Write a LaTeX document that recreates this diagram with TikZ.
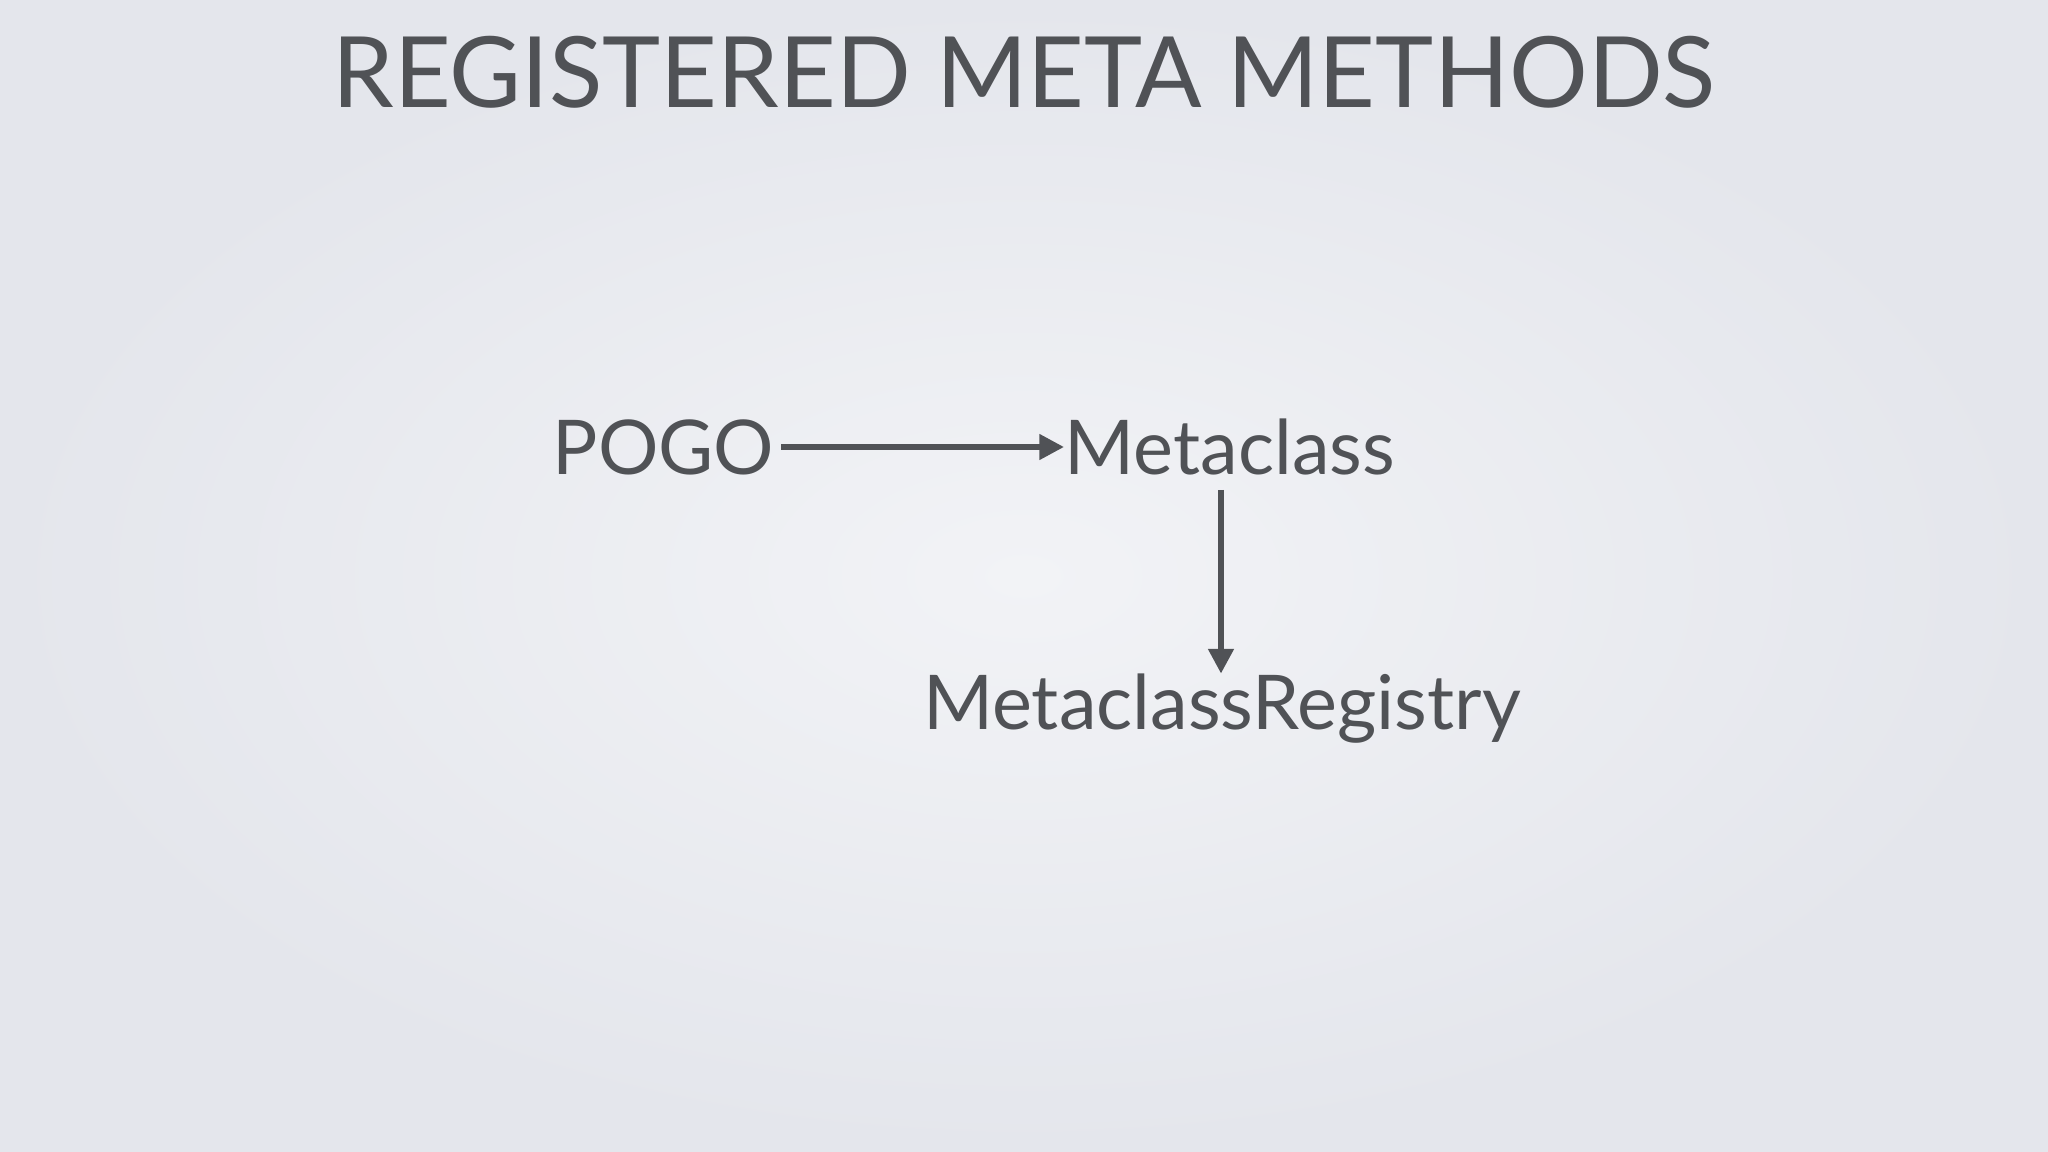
\documentclass[tikz,border=0pt]{standalone}
\usepackage{fontspec}
\setmainfont{Lato}
\usetikzlibrary{arrows.meta}
\definecolor{txt}{HTML}{505256}
\definecolor{bgin}{HTML}{F2F3F6}
\definecolor{bgout}{HTML}{E4E6EC}
\tikzset{lbl/.style={text=txt,font=\fontsize{21.5}{26}\selectfont,inner sep=0pt},
conn/.style={draw=txt,line width=1.6pt,-{Triangle[length=7pt,width=7pt]}}}
\begin{document}
\begin{tikzpicture}
\shade[inner color=bgin,outer color=bgout] (0,0) rectangle (20.48,-11.52);
\useasboundingbox (0,0) rectangle (20.48,-11.52);
\node[text=txt,font=\fontsize{28}{33}\selectfont,inner sep=0pt] (title) at (10.24,-0.72) {REGISTERED META METHODS};
\node[lbl,anchor=east] (pogo) at (7.75,-4.47) {POGO};
\node[lbl,anchor=west] (meta) at (10.64,-4.47) {Metaclass};
\node[lbl] (reg) at (12.22,-7.09) {MetaclassRegistry};
\draw[conn] (pogo.east) ++(0.06,0) coordinate (s1) (s1) -- (meta.west |- s1);
\coordinate (s2) at (12.21,-4.9);
\draw[conn] (s2) -- (s2 |- reg.north);
\end{tikzpicture}
\end{document}
